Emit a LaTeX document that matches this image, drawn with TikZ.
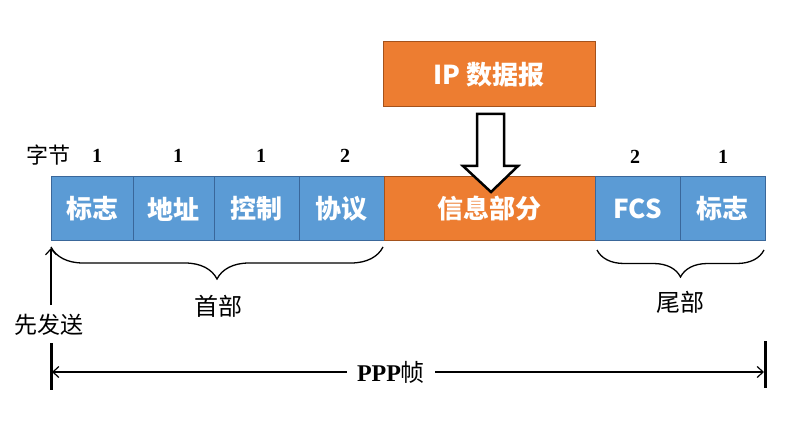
\documentclass[tikz,border=0pt]{standalone}
\usepackage{fontspec}
\setmainfont{Liberation Serif}
\newfontfamily\cjk{Noto Sans CJK SC}
\usetikzlibrary{decorations.pathreplacing,arrows.meta}
\definecolor{bblue}{HTML}{5B9BD5}
\definecolor{bblueline}{HTML}{3A679A}
\definecolor{borange}{HTML}{ED7D31}
\definecolor{borangeline}{HTML}{A4521C}
\begin{document}
\begin{tikzpicture}[x=1pt,y=-1pt,
  field/.style={draw=bblueline, fill=bblue, line width=1pt, minimum height=64pt, inner sep=0pt,
     text=white, font=\cjk\bfseries\fontsize{26}{30}\selectfont},
  infofield/.style={field, draw=borangeline, fill=borange},
  bytes/.style={font=\bfseries\fontsize{20}{24}\selectfont, inner sep=0pt},
  lbl/.style={font=\cjk\fontsize{24}{28}\selectfont, inner sep=2pt},
  bracestyle/.style={decorate, line width=1.3pt},
  tip/.style={-{Straight Barb[length=6pt,width=11pt,line width=1.2pt]}, line width=1.3pt},
  bar/.style={line width=3pt}]
\useasboundingbox (0,0) rectangle (800,446);

% frame fields
\node[field, minimum width=82pt] (f1) at (92,209) {标志};
\node[field, minimum width=81pt] (f2) at (173.5,209) {地址};
\node[field, minimum width=85pt] (f3) at (256.5,209) {控制};
\node[field, minimum width=85pt] (f4) at (341.5,209) {协议};
\node[infofield, minimum width=211pt] (info) at (489.5,209) {信息部分};
\node[field, minimum width=85pt] (fcs) at (637.5,209) {FCS};
\node[field, minimum width=85pt] (f7) at (722.5,209) {标志};

% IP datagram
\node[infofield, minimum width=212pt, minimum height=65pt] (ip) at (489,74.5) {IP 数据报};

% hollow arrow
\draw[line width=2.5pt, fill=white, line join=miter]
  (477,114) -- (504,114) -- (504,166) -- (518,166) -- (491,192) -- (463,166) -- (477,166) -- cycle;

% byte counts
\node[lbl, font=\cjk\fontsize{22}{26}\selectfont] (zj) at (49,155) {字节};
\node[bytes] (b1) at (97,156) {1};
\node[bytes] (b2) at (178,156) {1};
\node[bytes] (b3) at (261,156) {1};
\node[bytes] (b4) at (345,156) {2};
\node[bytes] (b5) at (635,157) {2};
\node[bytes] (b6) at (723,157) {1};

% braces
\draw[bracestyle, decoration={brace, amplitude=32pt}] (383,247) -- (51,247);
\node[lbl] (head) at (218,306) {首部};
\draw[bracestyle, decoration={brace, amplitude=27pt}] (764,250) -- (597,250);
\node[lbl] (tail) at (680,302) {尾部};

% first sent
\node[lbl, font=\cjk\fontsize{23}{27}\selectfont] (first) at (49,325) {先发送};
\coordinate (up) at (51,248);
\draw[tip] (51,305) -- (up);

% PPP frame span
\draw[bar] (51,343) -- (51,390);
\draw[bar] (765,341) -- (765,388);
\coordinate (lb) at (52,372);
\coordinate (rb) at (764,372);
\node[font=\fontsize{24}{28}\selectfont, inner sep=10pt] (ppp) at (391,372) {\textbf{PPP}{\cjk 帧}};
\draw[tip] (ppp.west) -- (lb);
\draw[tip] (ppp.east) -- (rb);
\end{tikzpicture}
\end{document}
